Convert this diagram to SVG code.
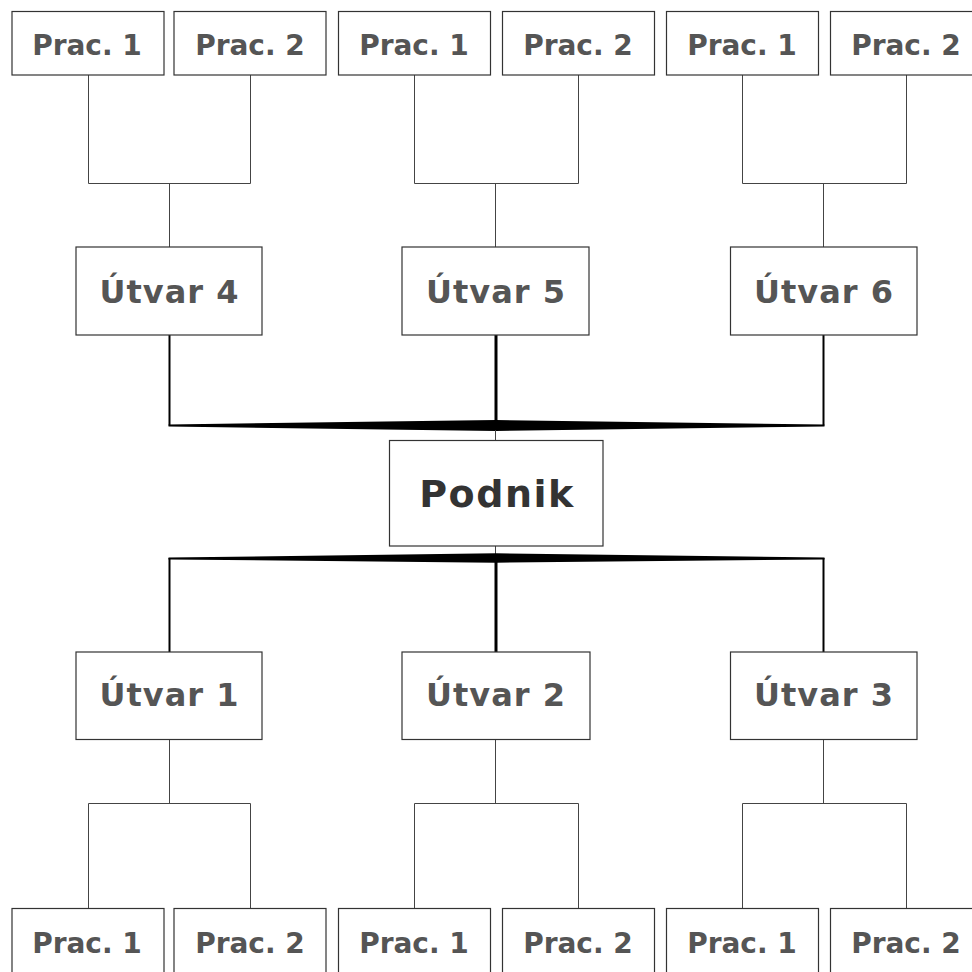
<svg xmlns="http://www.w3.org/2000/svg" width="972" height="972" viewBox="0 0 972 972">
  <style>
    .box { fill: #ffffff; stroke: #333333; stroke-width: 1.2; }
    .lbl { font-family: "DejaVu Sans", Verdana, sans-serif; font-weight: bold; fill: #555555; text-anchor: middle; }
    .prac { font-size: 28px; }
    .unit { font-size: 32px; letter-spacing: 1px; }
    .top { font-size: 38px; letter-spacing: 1.5px; fill: #333333; }
    .thin { fill: none; stroke: #444444; stroke-width: 1; }
    .mid { fill: none; stroke: #000000; stroke-width: 2; }
    .bold { fill: none; stroke: #000000; stroke-width: 3; }
    .band { fill: #000000; }
  </style>

  <!-- connectors -->
  <g id="connectors">
    <!-- upper staff brackets -->
    <path class="thin" d="M88.5 75 V183.5 H250.5 V75 M169.5 183.5 V247"/>
    <path class="thin" d="M414.5 75 V183.5 H578.5 V75 M495.5 183.5 V247"/>
    <path class="thin" d="M742.5 75 V183.5 H906.5 V75 M823.5 183.5 V247"/>
    <!-- upper units to enterprise -->
    <path class="mid" d="M169.5 335 V425.5"/>
    <path class="mid" d="M823.5 335 V425.5"/>
    <path class="bold" d="M496 335 V426"/>
    <polygon class="band" points="168.5,424.5 496,420 824.5,424.5 824.5,426.5 496,431 168.5,426.5"/>
    <path class="thin" d="M495.5 430 V440" stroke="#000"/>
    <!-- enterprise to lower units -->
    <path class="thin" d="M495.5 546 V554" stroke="#000"/>
    <polygon class="band" points="168.5,557.5 496,553.3 824.5,557.5 824.5,559.5 496,562.7 168.5,559.5"/>
    <path class="mid" d="M169.5 558 V652"/>
    <path class="mid" d="M823.5 558 V652"/>
    <path class="bold" d="M496 558 V652"/>
    <!-- lower staff brackets -->
    <path class="thin" d="M169.5 740 V803.5 M88.5 908 V803.5 H250.5 V908"/>
    <path class="thin" d="M495.5 740 V803.5 M414.5 908 V803.5 H578.5 V908"/>
    <path class="thin" d="M823.5 740 V803.5 M742.5 908 V803.5 H906.5 V908"/>
  </g>

  <!-- enterprise -->
  <g id="podnik">
    <rect class="box" x="389.5" y="440.5" width="213.5" height="105.5"/>
    <text class="lbl top" x="497" y="507">Podnik</text>
  </g>

  <!-- upper units -->
  <g id="utvar4">
    <rect class="box" x="76" y="247" width="186" height="88"/>
    <text class="lbl unit" x="169.5" y="303">Útvar 4</text>
  </g>
  <g id="utvar5">
    <rect class="box" x="402" y="247" width="187" height="88"/>
    <text class="lbl unit" x="496" y="303">Útvar 5</text>
  </g>
  <g id="utvar6">
    <rect class="box" x="730.5" y="247" width="186.5" height="88"/>
    <text class="lbl unit" x="824" y="303">Útvar 6</text>
  </g>

  <!-- lower units -->
  <g id="utvar1">
    <rect class="box" x="76" y="652" width="186" height="87.5"/>
    <text class="lbl unit" x="169.5" y="706">Útvar 1</text>
  </g>
  <g id="utvar2">
    <rect class="box" x="402" y="652" width="188" height="87.5"/>
    <text class="lbl unit" x="496" y="706">Útvar 2</text>
  </g>
  <g id="utvar3">
    <rect class="box" x="730.5" y="652" width="186.5" height="87.5"/>
    <text class="lbl unit" x="824" y="706">Útvar 3</text>
  </g>

  <!-- upper staff -->
  <g id="prac4-1"><rect class="box" x="12" y="11.5" width="152" height="63.5"/><text class="lbl prac" x="87" y="55">Prac. 1</text></g>
  <g id="prac4-2"><rect class="box" x="174" y="11.5" width="152" height="63.5"/><text class="lbl prac" x="250" y="55">Prac. 2</text></g>
  <g id="prac5-1"><rect class="box" x="338.5" y="11.5" width="152" height="63.5"/><text class="lbl prac" x="414" y="55">Prac. 1</text></g>
  <g id="prac5-2"><rect class="box" x="502.5" y="11.5" width="152" height="63.5"/><text class="lbl prac" x="578" y="55">Prac. 2</text></g>
  <g id="prac6-1"><rect class="box" x="666.5" y="11.5" width="152" height="63.5"/><text class="lbl prac" x="742" y="55">Prac. 1</text></g>
  <g id="prac6-2"><rect class="box" x="830.5" y="11.5" width="152" height="63.5"/><text class="lbl prac" x="906" y="55">Prac. 2</text></g>

  <!-- lower staff -->
  <g id="prac1-1"><rect class="box" x="12" y="908.5" width="152" height="70"/><text class="lbl prac" x="87" y="952.5">Prac. 1</text></g>
  <g id="prac1-2"><rect class="box" x="174" y="908.5" width="152" height="70"/><text class="lbl prac" x="250" y="952.5">Prac. 2</text></g>
  <g id="prac2-1"><rect class="box" x="338.5" y="908.5" width="152" height="70"/><text class="lbl prac" x="414" y="952.5">Prac. 1</text></g>
  <g id="prac2-2"><rect class="box" x="502.5" y="908.5" width="152" height="70"/><text class="lbl prac" x="578" y="952.5">Prac. 2</text></g>
  <g id="prac3-1"><rect class="box" x="666.5" y="908.5" width="152" height="70"/><text class="lbl prac" x="742" y="952.5">Prac. 1</text></g>
  <g id="prac3-2"><rect class="box" x="830.5" y="908.5" width="152" height="70"/><text class="lbl prac" x="906" y="952.5">Prac. 2</text></g>
</svg>
